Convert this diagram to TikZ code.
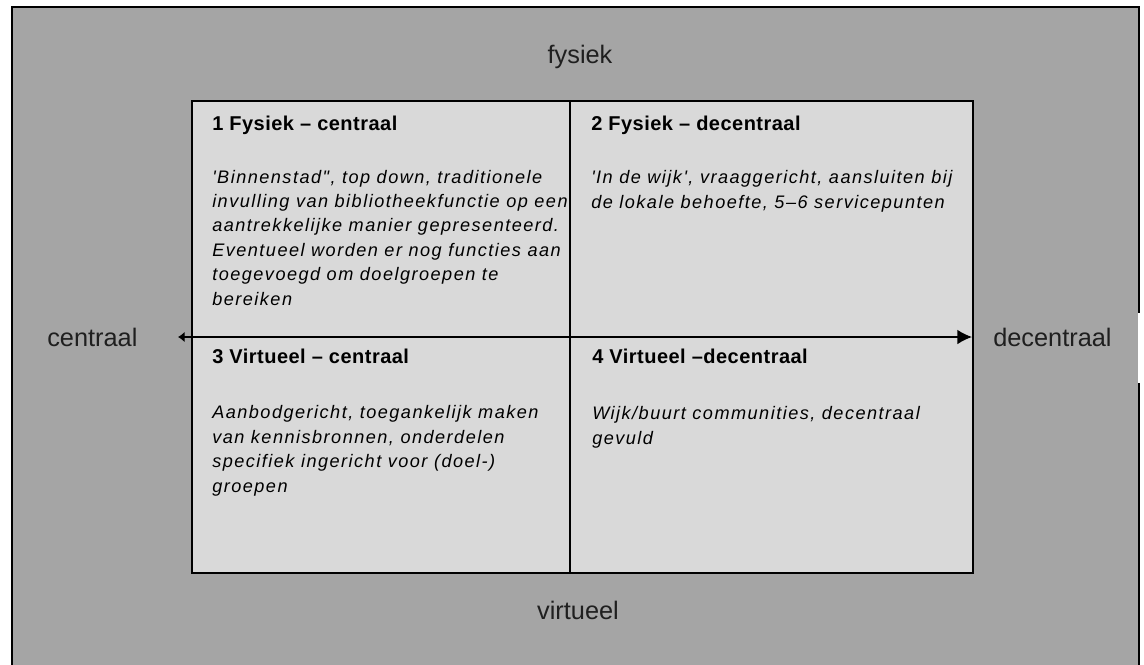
\documentclass[tikz,border=0pt]{standalone}
\usepackage{fontspec}
\setmainfont{Liberation Sans}
\newfontfamily\quadfont[LetterSpace=8.1]{Liberation Sans}
\newfontfamily\headfont[LetterSpace=2.4]{Liberation Sans}
\usetikzlibrary{arrows.meta}

\definecolor{outergray}{RGB}{165,165,165}
\definecolor{innergray}{RGB}{217,217,217}

\begin{document}
\begin{tikzpicture}[
x=0.75pt, y=-0.75pt,
axislabel/.style={
    inner sep=0pt,
    text=black!88,
    font=\fontsize{19}{22}\selectfont
},
quadhead/.style={
    anchor=base west,
    inner sep=0pt,
    font=\headfont\bfseries\fontsize{15}{18}\selectfont
},
quadbody/.style={
    anchor=base west,
    inner sep=0pt,
    align=left,
    font=\quadfont\itshape\fontsize{13.6}{18.3}\selectfont
},
>=Latex
]

\useasboundingbox (0,0) rectangle (1144,664);
\clip (0,0) rectangle (1144,664);

% background frame
\filldraw[fill=outergray, draw=black, line width=1.5pt] (12,7) rectangle (1139,690);
\fill[white] (1137.5,313) rectangle (1144,383);

% quadrant field
\filldraw[fill=innergray, draw=black, line width=1.5pt] (192,101) rectangle (973,573);

\coordinate (ftop) at (570,101);
\coordinate (vbottom) at (570,573);
\coordinate (cleft) at (178,337);
\coordinate (dright) at (972,337);

\draw[line width=1.1pt] (ftop)--(vbottom);
\draw[{Latex[length=5pt,width=8pt]}-{Latex[length=11pt,width=11pt]},line width=1.1pt] (cleft)--(dright);

% axis labels
\node[axislabel, anchor=base] (fysiek) at (580,63) {fysiek};
\node[axislabel, anchor=base] (virtueel) at (578,619) {virtueel};
\node[axislabel, anchor=base west] (centraal) at (47,346) {centraal};
\node[axislabel, anchor=base west] (decentraal) at (993,346) {decentraal};

% quadrants (body nodes sit on their last line)
\node[quadhead] (q1head) at (212,130) {1 Fysiek – centraal};
\node[quadbody] (q1body) at (212,305)
{'Binnenstad", top down, traditionele\\
invulling van bibliotheekfunctie op een\\
aantrekkelijke manier gepresenteerd.\\
Eventueel worden er nog functies aan\\
toegevoegd om doelgroepen te\\
bereiken};

\node[quadhead] (q2head) at (591,130) {2 Fysiek – decentraal};
\node[quadbody] (q2body) at (591,208)
{'In de wijk', vraaggericht, aansluiten bij\\
de lokale behoefte, 5–6 servicepunten};

\node[quadhead] (q3head) at (212,363) {3 Virtueel – centraal};
\node[quadbody] (q3body) at (212,492)
{Aanbodgericht, toegankelijk maken\\
van kennisbronnen, onderdelen\\
specifiek ingericht voor (doel-)\\
groepen};

\node[quadhead] (q4head) at (592,363) {4 Virtueel –decentraal};
\node[quadbody] (q4body) at (592,444)
{Wijk/buurt communities, decentraal\\
gevuld};

\end{tikzpicture}
\end{document}
